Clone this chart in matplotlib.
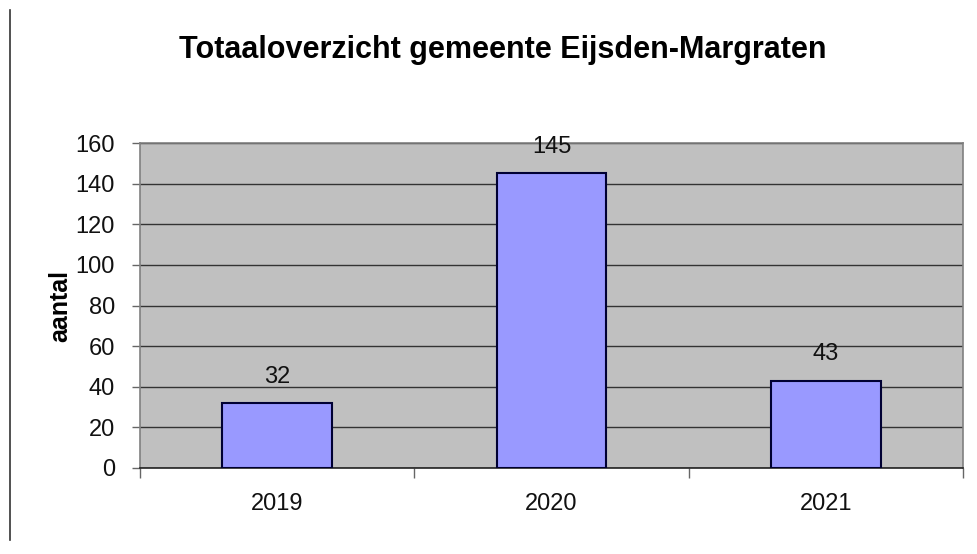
import matplotlib
matplotlib.use("Agg")
import matplotlib.pyplot as plt
from matplotlib.lines import Line2D
import numpy as np

categories = ["2019", "2020", "2021"]
values = [32, 145, 43]
yticks = [0, 20, 40, 60, 80, 100, 120, 140, 160]
title = "Totaaloverzicht gemeente Eijsden-Margraten"
ylabel = "aantal"

plt.rcParams['font.family'] = ['Liberation Sans', 'DejaVu Sans']

W, H = 978, 554
fig = plt.figure(figsize=(W / 100, H / 100), dpi=100)
fig.patch.set_facecolor("white")

left, right, top, bottom = 140, 963, 143, 468
ax = fig.add_axes([left / W, 1 - bottom / H, (right - left) / W, (bottom - top) / H])
ax.set_facecolor("#C0C0C0")

x = np.arange(len(categories))
ax.bar(x, values, width=0.4, color="#9999FF", edgecolor="#000033", linewidth=1.5, zorder=3)
ax.set_xlim(-0.5, len(categories) - 0.5)
ax.set_ylim(0, 160)
ax.set_yticks(yticks)
ax.set_yticklabels([str(v) for v in yticks], fontsize=17, color="#111111")
ax.yaxis.grid(True, color="#333333", linewidth=1.0, zorder=1)
ax.set_axisbelow(True)

ax.set_xticks(x)
ax.set_xticklabels(categories, fontsize=17, color="#111111")
ax.tick_params(axis='x', length=0, pad=18)
ax.set_xticks(np.arange(-0.5, len(categories)), minor=True)
ax.tick_params(axis='x', which='minor', length=7, color="#666666", width=1)
ax.tick_params(axis='y', length=6, color="#666666", width=1, pad=12)

for s in ["left", "top", "right"]:
    ax.spines[s].set_color("#808080")
    ax.spines[s].set_linewidth(1.2)
ax.spines["bottom"].set_color("#222222")
ax.spines["bottom"].set_linewidth(1.2)

for xi, v in zip(x, values):
    ax.annotate(str(v), (xi, v), xytext=(0, 11), textcoords="offset points",
                ha="center", va="bottom", fontsize=17, color="#111111")

ax.set_ylabel(ylabel, fontsize=18, fontweight="bold", labelpad=2)

fig.text((167 + 839) / 2 / W, 1 - 50 / H, title, ha="center", va="center",
         fontsize=22, fontweight="bold")

fig.add_artist(Line2D([10 / W, 10 / W], [1 - 10 / H, 1 - 540 / H], color="#333333", linewidth=1.2))

fig.savefig("out.png", dpi=100)
